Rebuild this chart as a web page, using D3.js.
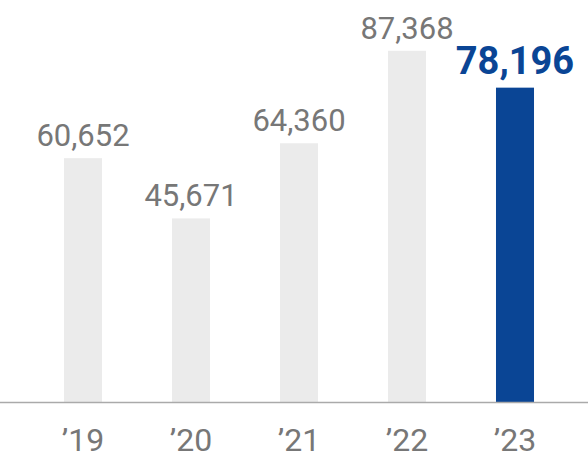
<!DOCTYPE html>
<html><head><meta charset="utf-8">
<script src="https://cdn.jsdelivr.net/npm/d3@7"></script>
<style>body{margin:0;background:#fff}</style></head>
<body><svg id="c" width="588" height="460"></svg>
<script>
const years = ["’19","’20","’21","’22","’23"];
const values = [60652,45671,64360,87368,78196];
const highlight = [false,false,false,false,true];

const svg = d3.select("#c");
const x = d3.scaleBand().domain(years).range([29,569]).paddingInner(0.648).paddingOuter(0.324);
const y = d3.scaleLinear().domain([0,100000]).range([402,0]);
const fmt = d3.format(",");

svg.selectAll("rect").data(values).join("rect")
  .attr("x",(d,i)=>x(years[i])).attr("width",x.bandwidth())
  .attr("y",d=>y(d)).attr("height",d=>y(0)-y(d))
  .attr("fill",(d,i)=>highlight[i]?"#0a4595":"#ebebeb");

svg.append("line").attr("x1",0).attr("x2",588).attr("y1",y(0)+0.5).attr("y2",y(0)+0.5)
  .attr("stroke","#aaa").attr("stroke-width",1.5);

svg.selectAll("text.v").data(values).join("text").attr("class","v")
  .attr("x",(d,i)=>x(years[i])+x.bandwidth()/2)
  .attr("y",(d,i)=>y(d)-(highlight[i]?14:12))
  .attr("text-anchor","middle")
  .attr("font-family","Roboto, sans-serif")
  .attr("font-size",(d,i)=>highlight[i]?38:31)
  .attr("font-weight",(d,i)=>highlight[i]?"bold":"normal")
  .attr("fill",(d,i)=>highlight[i]?"#0a4595":"#777")
  .text(d=>fmt(d));

const ax = d3.axisBottom(x).tickSize(0).tickPadding(0);
const g = svg.append("g").attr("transform","translate(0,428)").call(ax);
g.select(".domain").remove();
g.selectAll("text").attr("font-family","Roboto, sans-serif").attr("font-size",32)
  .attr("fill","#777").attr("dy","0.71em");
</script></body></html>
